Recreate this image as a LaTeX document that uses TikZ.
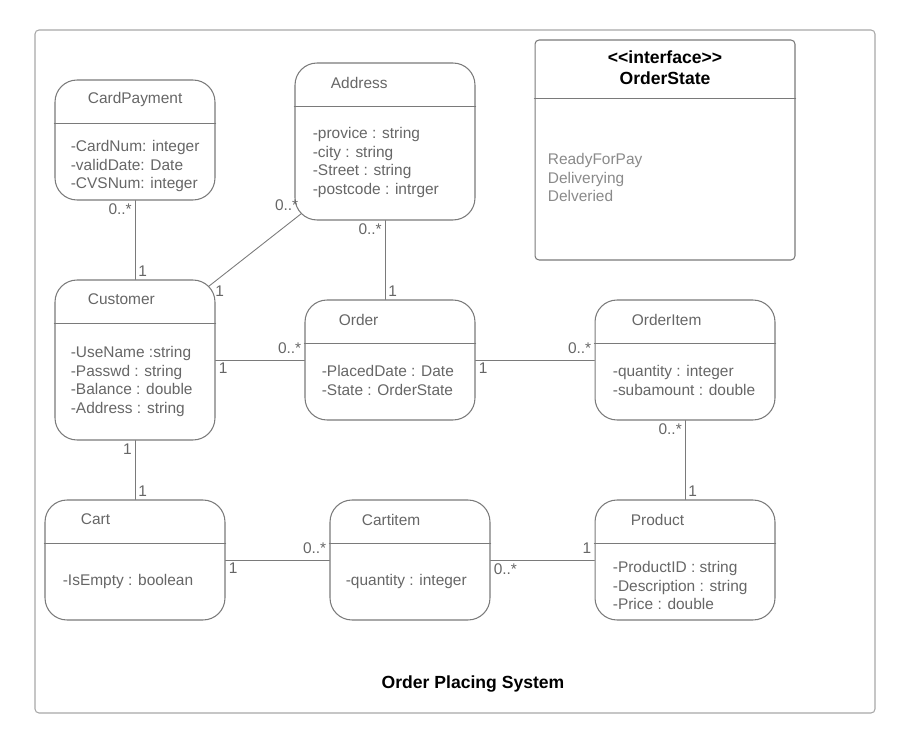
\documentclass[tikz,border=0pt]{standalone}
\usepackage{fontspec}
\setmainfont{Liberation Sans}
\definecolor{boxgray}{HTML}{7A7A7A}
\definecolor{txtgray}{HTML}{666666}
\definecolor{lightgray}{HTML}{8A8A8A}
\definecolor{framegray}{HTML}{A8A8A8}
\begin{document}
\begin{tikzpicture}[x=0.02cm, y=-0.02cm, line cap=round, line join=round, font=\fontsize{8.8}{10.8}\selectfont]
	\tikzset{classbox/.style={draw=boxgray, line width=0.6pt, rounded corners=0.44cm, inner sep=0pt},
		classline/.style={draw=boxgray, line width=0.6pt},
		title/.style={text=txtgray, anchor=west, inner sep=0pt},
		attrs/.style={text=txtgray, anchor=north west, align=left, inner sep=0pt},
		assoc/.style={draw=boxgray, line width=0.5pt},
		mult/.style={text=txtgray, inner sep=1.6pt}}
	\useasboundingbox (0,0) rectangle (911,742);
	\draw[framegray, line width=0.6pt, rounded corners=0.08cm] (35,30) rectangle (875,713);
	% classes
	\node[classbox, minimum width=3.2cm, minimum height=2.4cm] (cardpay) at (135,140) {};
	\node[classbox, minimum width=3.6cm, minimum height=3.14cm] (address) at (385,141.5) {};
	\node[classbox, rounded corners=0.08cm, minimum width=5.2cm, minimum height=4.4cm] (orderstate) at (665,150) {};
	\node[classbox, minimum width=3.2cm, minimum height=3.2cm] (customer) at (135,360) {};
	\node[classbox, minimum width=3.4cm, minimum height=2.4cm] (order) at (390,360) {};
	\node[classbox, minimum width=3.6cm, minimum height=2.4cm] (orderitem) at (685,360) {};
	\node[classbox, minimum width=3.6cm, minimum height=2.4cm] (cart) at (135,560) {};
	\node[classbox, minimum width=3.2cm, minimum height=2.4cm] (cartitem) at (410,560) {};
	\node[classbox, minimum width=3.6cm, minimum height=2.4cm] (product) at (685,560) {};
	\foreach \n in {cardpay,address,customer,order,orderitem,cart,cartitem,product}
		\draw[classline] ([yshift=-0.88cm]\n.north west) -- ([yshift=-0.88cm]\n.north east);
	\draw[classline] ([yshift=-1.18cm]orderstate.north west) -- ([yshift=-1.18cm]orderstate.north east);
	% titles
	\node[title] (cardpay-t) at ([shift={(33,20)}]cardpay.north west) {CardPayment};
	\node[title] (address-t) at ([shift={(36,20)}]address.north west) {Address};
	\node[title] (customer-t) at ([shift={(33,20)}]customer.north west) {Customer};
	\node[title] (order-t) at ([shift={(34,20)}]order.north west) {Order};
	\node[title] (orderitem-t) at ([shift={(37,20)}]orderitem.north west) {OrderItem};
	\node[title] (cart-t) at ([shift={(36,20)}]cart.north west) {Cart};
	\node[title] (cartitem-t) at ([shift={(32,20)}]cartitem.north west) {Cartitem};
	\node[title] (product-t) at ([shift={(36,20)}]product.north west) {Product};
	\node[font=\bfseries\fontsize{10}{11.9}\selectfont, align=center, inner sep=0pt] (orderstate-t) at (665,67.5) {<{}<interface>{}>\\OrderState};
	% attributes
	\node[attrs] (cardpay-a) at ([shift={(16,60)}]cardpay.north west) {-CardNum: integer\\-validDate: Date\\-CVSNum: integer};
	\node[attrs] (address-a) at ([shift={(18,64)}]address.north west) {-provice : string\\-city : string\\-Street : string\\-postcode : intrger};
	\node[attrs] (customer-a) at ([shift={(16,66)}]customer.north west) {-UseName :string\\-Passwd : string\\-Balance : double\\-Address : string};
	\node[attrs] (order-a) at ([shift={(17,65)}]order.north west) {-PlacedDate : Date\\-State : OrderState};
	\node[attrs] (orderitem-a) at ([shift={(18,65)}]orderitem.north west) {-quantity : integer\\-subamount : double};
	\node[attrs] (cart-a) at ([shift={(18,74)}]cart.north west) {-IsEmpty : boolean};
	\node[attrs] (cartitem-a) at ([shift={(16,74)}]cartitem.north west) {-quantity : integer};
	\node[attrs] (product-a) at ([shift={(18,61)}]product.north west) {-ProductID : string\\-Description : string\\-Price : double};
	\node[attrs, text=lightgray] (orderstate-a) at ([shift={(13,113)}]orderstate.north west) {ReadyForPay\\Deliverying\\Delveried};
	% associations
	\coordinate (address-c) at ([shift={(7,-7)}]address.south west);
	\coordinate (customer-c) at ([shift={(-7,7)}]customer.north east);
	\draw[assoc] (cardpay.south) node[mult, below left] {0..*} -- (customer.north) node[mult, above right] {1};
	\draw[assoc] (address-c) node[mult, above left] {0..*} -- (customer-c) node[mult, below right, xshift=2pt, yshift=2pt] {1};
	\draw[assoc] (address.south) node[mult, below left] {0..*} -- (address.south |- order.north) node[mult, above right] {1};
	\draw[assoc] (customer.east) node[mult, below right] {1} -- (order.west) node[mult, above left, yshift=2pt] {0..*};
	\draw[assoc] (order.east) node[mult, below right] {1} -- (orderitem.west) node[mult, above left, yshift=2pt] {0..*};
	\draw[assoc] (orderitem.south) node[mult, below left] {0..*} -- (product.north) node[mult, above right] {1};
	\draw[assoc] (customer.south) node[mult, below left] {1} -- (cart.north) node[mult, above right] {1};
	\draw[assoc] (cart.east) node[mult, below right] {1} -- (cartitem.west) node[mult, above left, yshift=2pt] {0..*};
	\draw[assoc] (cartitem.east) node[mult, below right] {0..*} -- (product.west) node[mult, above left, yshift=2pt] {1};
	\node[font=\bfseries\fontsize{10}{12}\selectfont, inner sep=0pt] (system) at (473,684) {Order Placing System};
\end{tikzpicture}
\end{document}
